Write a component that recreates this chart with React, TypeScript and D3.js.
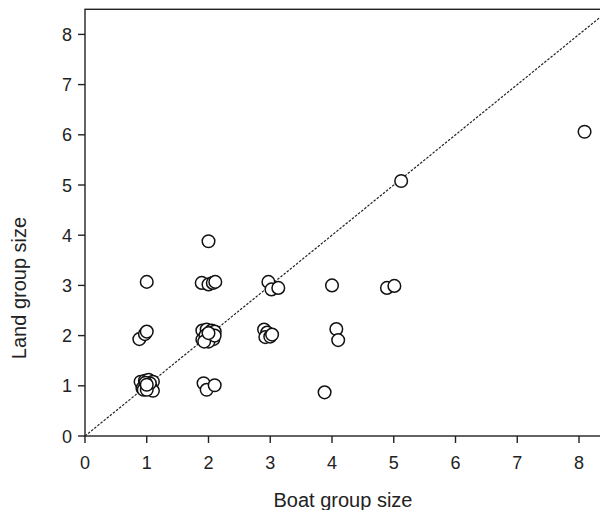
import React from "react";
import * as d3 from "d3";

const boatSize: number[] = [
  0.9, 0.97, 1.03, 1.1, 0.93, 1.07, 1.1, 0.95, 1.05, 1.0, 0.98, 1.0,
  1.92, 1.97, 2.1,
  0.88, 0.97, 1.0,
  1.0,
  1.9, 1.97, 2.05, 2.1, 1.9, 1.95, 2.02, 2.08, 2.0, 1.93, 2.1, 2.0,
  1.89, 2.0, 2.07, 2.11,
  2.0,
  2.9, 2.95, 2.92, 3.0, 3.03,
  2.97, 3.02, 3.13,
  3.88,
  4.0,
  4.07, 4.1,
  4.89, 5.01,
  5.12,
  8.09,
];

const landSize: number[] = [
  1.08, 1.1, 1.12, 1.08, 0.95, 0.96, 0.9, 0.92, 1.05, 0.92, 1.06, 1.02,
  1.05, 0.92, 1.01,
  1.93, 2.03, 2.08,
  3.07,
  2.1, 2.12, 2.1, 2.08, 1.92, 2.0, 1.95, 1.93, 1.88, 1.88, 2.0, 2.05,
  3.05, 3.02, 3.05, 3.07,
  3.88,
  2.12, 2.06, 1.97, 1.98, 2.02,
  3.07, 2.92, 2.95,
  0.87,
  3.0,
  2.13, 1.91,
  2.95, 2.99,
  5.08,
  6.06,
];

const xTicks: number[] = [0, 1, 2, 3, 4, 5, 6, 7, 8];
const yTicks: number[] = [0, 1, 2, 3, 4, 5, 6, 7, 8];

export default function App() {
  const W = 600;
  const H = 510;
  const left = 85;
  const top = 9.3;
  const bottom = 436;
  const x = d3.scaleLinear().domain([0, 8.5]).range([left, left + 8.5 * 61.75]);
  const y = d3.scaleLinear().domain([0, 8.5]).range([bottom, top]);
  const right = x(8.5);
  const font = "'Liberation Sans', Arial, sans-serif";
  const pts = boatSize.map((b, i) => [b, landSize[i]]);
  const line = d3.line<number[]>().x((d) => x(d[0])).y((d) => y(d[1]));

  return (
    <svg
      width={W}
      height={H}
      style={{ position: "fixed", left: 0, top: 0, background: "#fff" }}
      fontFamily={font}
    >
      <defs>
        <clipPath id="plotClip">
          <rect x={left} y={top} width={right - left} height={bottom - top} />
        </clipPath>
      </defs>
      <path
        d={line([[0, 0], [8.5, 8.5]]) || ""}
        stroke="#222"
        strokeWidth={1.2}
        strokeDasharray="2.5,1.5"
        fill="none"
        clipPath="url(#plotClip)"
      />
      <rect
        x={left}
        y={top}
        width={right - left}
        height={bottom - top}
        fill="none"
        stroke="#222"
        strokeWidth={1.4}
      />
      {xTicks.map((t) => (
        <g key={"xt" + t}>
          <line x1={x(t)} x2={x(t)} y1={bottom} y2={bottom + 7} stroke="#222" strokeWidth={1.4} />
          <text x={x(t)} y={469} textAnchor="middle" fontSize={18} fill="#222">
            {t}
          </text>
        </g>
      ))}
      {yTicks.map((t) => (
        <g key={"yt" + t}>
          <line x1={left - 7} x2={left} y1={y(t)} y2={y(t)} stroke="#222" strokeWidth={1.4} />
          <text x={72} y={y(t) + 6.5} textAnchor="end" fontSize={18} fill="#222">
            {t}
          </text>
        </g>
      ))}
      {pts.map((p, i) => (
        <circle
          key={"p" + i}
          cx={x(p[0])}
          cy={y(p[1])}
          r={6.3}
          fill="#fff"
          stroke="#111"
          strokeWidth={1.5}
        />
      ))}
      <text x={343} y={507} textAnchor="middle" fontSize={20} fill="#222">
        Boat group size
      </text>
      <text
        transform={`translate(26, 288) rotate(-90)`}
        textAnchor="middle"
        fontSize={20}
        fill="#222"
      >
        Land group size
      </text>
    </svg>
  );
}
